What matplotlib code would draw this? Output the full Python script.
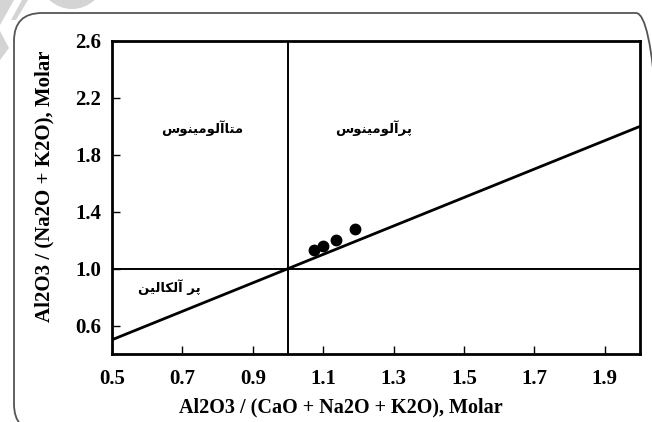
import matplotlib
matplotlib.use("Agg")
import matplotlib.pyplot as plt
from matplotlib.patches import FancyBboxPatch, Polygon, Ellipse
from matplotlib.transforms import IdentityTransform

# sample points (A/CNK, A/NK)
acnk = [1.074, 1.10, 1.136, 1.19]
anK = [1.13, 1.16, 1.20, 1.28]

# boundary lines
div_x = [0.5, 2.0]
div_y = [0.5, 2.0]

x_ticks = [0.5, 0.7, 0.9, 1.1, 1.3, 1.5, 1.7, 1.9]
y_ticks = [0.6, 1.0, 1.4, 1.8, 2.2, 2.6]

# field names, written in visual order with Arabic presentation forms
metaluminous = "\uFEB1\uFEEE\uFEE8\uFEF4\uFEE3\uFEEE\uFEDF\uFE81\uFE8E\uFE98\uFEE3"
peraluminous = "\uFEB1\uFEEE\uFEE8\uFEF4\uFEE3\uFEEE\uFEDF\uFE81\uFEAE\uFB58"
peralkaline = "\uFEE6\uFEF4\uFEDF\uFE8E\uFEDC\uFEDF\uFE81 \uFEAE\uFB58"

plt.rcParams['font.family'] = ['Liberation Serif', 'DejaVu Serif']

fig = plt.figure(figsize=(6.52, 4.22), dpi=100)

# faint watermark in the corner
wm = '#d4d4d4'
ident = IdentityTransform()
H = 422
for pts in ([(0, 0), (14, 0), (0, 25)],
            [(0, 31), (9, 48), (0, 60)],
            [(22, 0), (28, 0), (16, 20), (11, 20)]):
    fig.add_artist(Polygon([(px, H - py) for px, py in pts], closed=True,
                           facecolor=wm, edgecolor='none', transform=ident, zorder=0))
fig.add_artist(Ellipse((72, H + 22), 64, 62, facecolor=wm, edgecolor='none',
                       transform=ident, zorder=0))

# rounded frame around the figure
fig.add_artist(FancyBboxPatch((14, -10), 650, 419,
                              boxstyle="round,pad=0,rounding_size=28",
                              facecolor='none', edgecolor='#555555', lw=1.3,
                              transform=ident, zorder=1))

ax = fig.add_axes([112 / 652, 1 - 354 / 422, 528 / 652, 313 / 422])
ax.set_xlim(0.5, 2.0)
ax.set_ylim(0.4, 2.6)

ax.plot(div_x, div_y, color='black', lw=2)
ax.axhline(1.0, color='black', lw=1.4)
ax.axvline(1.0, color='black', lw=1.4)
ax.plot(acnk, anK, 'o', color='black', markersize=7.5)

ax.text(0.756, 1.986, metaluminous, family='DejaVu Sans', fontweight='bold',
        fontsize=9.5, ha='center', va='center')
ax.text(1.244, 1.986, peraluminous, family='DejaVu Sans', fontweight='bold',
        fontsize=9.5, ha='center', va='center')
ax.text(0.662, 0.87, peralkaline, family='DejaVu Sans', fontweight='bold',
        fontsize=9.5, ha='center', va='center')

ax.set_xticks(x_ticks)
ax.set_xticklabels([f"{v:.1f}" for v in x_ticks])
ax.set_yticks(y_ticks)
ax.set_yticklabels([f"{v:.1f}" for v in y_ticks])
ax.tick_params(direction='in', length=6, width=1, labelsize=15)
ax.tick_params(axis='x', pad=11)
ax.tick_params(axis='y', pad=8)
for lab in ax.get_xticklabels() + ax.get_yticklabels():
    lab.set_fontweight('bold')
for s in ax.spines.values():
    s.set_linewidth(2)

ax.set_xlabel('Al2O3 / (CaO + Na2O + K2O), Molar', fontsize=14.5,
              fontweight='bold', va='center')
ax.xaxis.set_label_coords(0.434, -0.172)
ax.set_ylabel('Al2O3 / (Na2O + K2O), Molar', fontsize=15,
              fontweight='bold', va='center')
ax.yaxis.set_label_coords(-0.127, 0.535)

fig.savefig('out.png', dpi=100)
